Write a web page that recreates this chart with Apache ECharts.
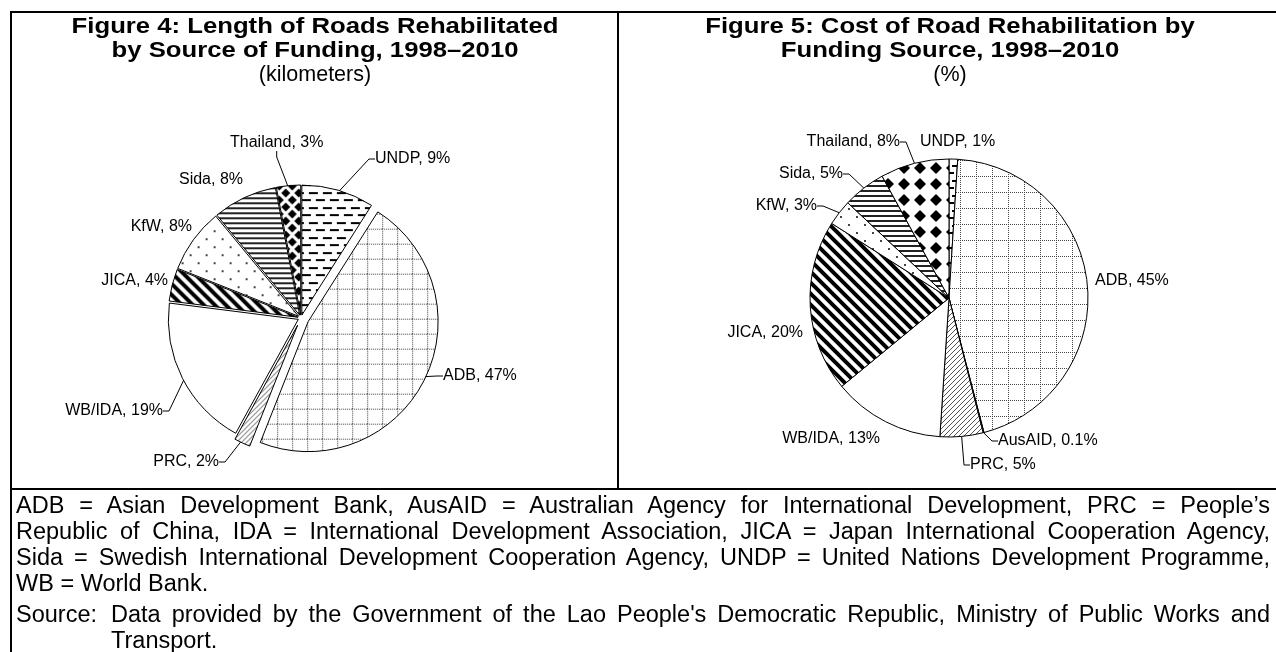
<!DOCTYPE html>
<html>
<head>
<meta charset="utf-8">
<script src="https://cdn.jsdelivr.net/npm/echarts@6/dist/echarts.min.js"></script>
<style>
  html, body { margin: 0; padding: 0; background: #fff; overflow: hidden; }
  body { width: 1276px; height: 652px; position: relative; font-family: "Liberation Sans", Arial, sans-serif; color: #000; }
  #chart { position: absolute; left: 0; top: 0; width: 1276px; height: 652px; }
  #frame { position: absolute; left: 10px; top: 11px; width: 1280px; height: 700px; border: 2px solid #000; box-sizing: border-box; pointer-events: none; }
  #divider { position: absolute; left: 617px; top: 11px; width: 2px; height: 479px; background: #000; }
  #hline { position: absolute; left: 10px; top: 488px; width: 1280px; height: 2px; background: #000; }
  .ttl { position: absolute; top: 14px; width: 600px; text-align: center; line-height: 24px; }
  .ttl b { display: block; font-size: 21.5px; transform: scaleX(1.195); }
  .ttl span { display: block; font-size: 21.5px; }
  #notes { position: absolute; left: 16px; top: 492px; width: 1254px; font-size: 23.5px; line-height: 26px; }
  #notes .ln { text-align: justify; text-align-last: justify; white-space: nowrap; }
  #notes .ln.end { text-align-last: left; }
  #notes .src { position: relative; margin-top: 5px; padding-left: 95px; }
  #notes .src .lbl { position: absolute; left: 0; top: 0; }
</style>
</head>
<body>
<div id="chart"></div>
<div id="frame"></div>
<div id="divider"></div>
<div id="hline"></div>
<div class="ttl" style="left:15px"><b>Figure 4: Length of Roads Rehabilitated</b><b>by Source of Funding, 1998–2010</b><span>(kilometers)</span></div>
<div class="ttl" style="left:650px"><b>Figure 5: Cost of Road Rehabilitation by</b><b>Funding Source, 1998–2010</b><span>(%)</span></div>
<div id="notes">
  <div class="ln">ADB = Asian Development Bank, AusAID = Australian Agency for International Development, PRC = People’s</div>
  <div class="ln">Republic of China, IDA = International Development Association, JICA = Japan International Cooperation Agency,</div>
  <div class="ln">Sida = Swedish International Development Cooperation Agency, UNDP = United Nations Development Programme,</div>
  <div class="ln end">WB = World Bank.</div>
  <div class="src">
    <span class="lbl">Source:</span>
    <div class="ln">Data provided by the Government of the Lao People's Democratic Republic, Ministry of Public Works and</div>
    <div class="ln end">Transport.</div>
  </div>
</div>
<script>
// figure 4 - length of roads (percent of km)
var lenNames = ['UNDP', 'ADB', 'PRC', 'WB/IDA', 'JICA', 'KfW', 'Sida', 'Thailand'];
var lenValues = [9, 47, 2, 19, 4, 8, 8, 3];
// figure 5 - cost share (%)
var costNames = ['UNDP', 'ADB', 'AusAID', 'PRC', 'WB/IDA', 'JICA', 'KfW', 'Sida', 'Thailand'];
var costValues = [1, 45, 0.1, 5, 13, 20, 3, 5, 8];
// slices that stick out further in figure 4
var bigOffset = ['ADB', 'PRC'];

var FONT = '"Liberation Sans", Arial, sans-serif';
var C1 = [301, 318], R1 = 130;
var C2 = [949, 298], R2 = 139;

// where the data labels sit (x, y, align), like the excel "best fit" ones
var lenSpots = {
  'Thailand': [230, 143, 'left'],
  'UNDP': [375, 159, 'left'],
  'ADB': [443, 376, 'left'],
  'PRC': [219, 462, 'right'],
  'WB/IDA': [163, 411, 'right'],
  'JICA': [168, 281, 'right'],
  'KfW': [192, 227, 'right'],
  'Sida': [243, 180, 'right']
};
var costSpots = {
  'Thailand': [900, 142, 'right'],
  'UNDP': [920, 142, 'left'],
  'ADB': [1095, 281, 'left'],
  'AusAID': [998, 441, 'left'],
  'PRC': [970, 465, 'left'],
  'WB/IDA': [880, 439, 'right'],
  'JICA': [803, 333, 'right'],
  'KfW': [817, 206, 'right'],
  'Sida': [843, 174, 'right']
};
// labels drawn without a leader line
var lenNoLine = ['JICA', 'KfW', 'Sida'];
var costNoLine = ['UNDP', 'ADB', 'WB/IDA', 'JICA'];

function tile(w, h, draw) {
  var c = document.createElement('canvas');
  c.width = w; c.height = h;
  var ctx = c.getContext('2d');
  ctx.fillStyle = '#fff';
  ctx.fillRect(0, 0, w, h);
  ctx.fillStyle = '#000';
  ctx.strokeStyle = '#000';
  draw(ctx, w, h);
  return { image: c, repeat: 'repeat' };
}
function gridTile(n) {
  return tile(n, n, function (ctx) {
    ctx.fillStyle = '#444';
    for (var i = 0; i < n; i += 2) {
      ctx.fillRect(i, 0, 1, 1);
      ctx.fillRect(0, i, 1, 1);
    }
  });
}
function dia(ctx, x, y, r) {
  ctx.beginPath();
  ctx.moveTo(x, y - r); ctx.lineTo(x + r, y); ctx.lineTo(x, y + r); ctx.lineTo(x - r, y);
  ctx.closePath(); ctx.fill();
}
// diamonds on a square grid
function diamondTile(n, r) {
  return tile(n, n, function (ctx) { dia(ctx, n / 2, n / 2, r); });
}
// diamonds on a staggered grid
function staggerTile(w, h, r) {
  return tile(w, h, function (ctx) {
    dia(ctx, 0, 0, r); dia(ctx, w, 0, r); dia(ctx, 0, h, r); dia(ctx, w, h, r);
    dia(ctx, w / 2, h / 2, r);
  });
}

// black & white fills, one per funder
var fills = {
  'UNDP': tile(14, 15, function (ctx) {
    ctx.fillRect(0, 0, 9, 2);
    ctx.fillRect(7, 7, 7, 2);
    ctx.fillRect(0, 7, 2, 2);
  }),
  'ADB': gridTile(16),
  'PRC': tile(5, 5, function (ctx) {
    ctx.strokeStyle = '#555';
    ctx.lineWidth = 1;
    ctx.beginPath();
    ctx.moveTo(-1, 6); ctx.lineTo(6, -1);
    ctx.stroke();
  }),
  'WB/IDA': '#fff',
  'JICA': tile(11, 11, function (ctx) {
    ctx.lineWidth = 4;
    ctx.beginPath();
    ctx.moveTo(-2, -2); ctx.lineTo(13, 13);
    ctx.moveTo(-2, 9); ctx.lineTo(2, 13);
    ctx.moveTo(9, -2); ctx.lineTo(13, 2);
    ctx.stroke();
  }),
  'KfW': tile(16, 16, function (ctx) {
    ctx.fillStyle = '#444';
    ctx.fillRect(0, 0, 2, 2);
    ctx.fillRect(8, 8, 2, 2);
  }),
  'Sida': tile(1, 5, function (ctx) {
    ctx.fillStyle = '#222';
    ctx.fillRect(0, 0, 1, 2);
  }),
  'Thailand': diamondTile(16, 6),
  'AusAID': '#000'
};
// figure 4 uses a slightly finer grid and staggered diamonds
var lenFills = Object.assign({}, fills, { 'ADB': gridTile(15), 'Thailand': staggerTile(13, 14, 4.5) });

var labelStyle = {
  show: true,
  position: 'outside',
  formatter: '{b}, {c}%',
  color: '#000',
  fontSize: 16,
  fontFamily: FONT
};
var lineStyle = {
  show: true,
  length: 10,
  length2: 6,
  lineStyle: { color: '#000', width: 1 }
};

// slices only (no labels); keep() picks which slices this layer draws
function sliceData(names, values, fillSet, keep, selected) {
  return names.map(function (n, i) {
    if (keep && !keep(n)) {
      return { name: n, value: values[i], itemStyle: { color: 'none', borderWidth: 0 } };
    }
    return {
      name: n, value: values[i], selected: selected,
      itemStyle: { color: fillSet[n], borderColor: '#000', borderWidth: 1 }
    };
  });
}
// invisible slices that only carry the labels
function labelData(names, values, noLine) {
  return names.map(function (n, i) {
    return {
      name: n, value: values[i],
      itemStyle: { color: 'none', borderWidth: 0 },
      labelLine: { show: noLine.indexOf(n) < 0 }
    };
  });
}
function placeLabel(spots, names) {
  return function (p) {
    var s = spots[names[p.dataIndex]];
    if (!s) return {};
    return { x: s[0], y: s[1], align: s[2], verticalAlign: 'middle' };
  };
}

var myChart = echarts.init(document.getElementById('chart'));
var slicesBase = {
  type: 'pie',
  silent: true,
  emphasis: { disabled: true },
  label: { show: false },
  labelLine: { show: false }
};
var option = {
  animation: false,
  series: [
    Object.assign({}, slicesBase, {
      center: C1, radius: R1,
      selectedMode: 'multiple', selectedOffset: 3,
      data: sliceData(lenNames, lenValues, lenFills, function (n) { return bigOffset.indexOf(n) < 0; }, true)
    }),
    Object.assign({}, slicesBase, {
      center: C1, radius: R1,
      selectedMode: 'multiple', selectedOffset: 8,
      data: sliceData(lenNames, lenValues, lenFills, function (n) { return bigOffset.indexOf(n) >= 0; }, true)
    }),
    {
      type: 'pie', silent: true,
      center: C1, radius: R1,
      avoidLabelOverlap: false,
      emphasis: { disabled: true },
      label: labelStyle,
      labelLine: lineStyle,
      labelLayout: placeLabel(lenSpots, lenNames),
      data: labelData(lenNames, lenValues, lenNoLine)
    },
    Object.assign({}, slicesBase, {
      center: C2, radius: R2,
      selectedMode: false,
      data: sliceData(costNames, costValues, fills, null, false)
    }),
    {
      type: 'pie', silent: true,
      center: C2, radius: R2,
      avoidLabelOverlap: false,
      emphasis: { disabled: true },
      label: labelStyle,
      labelLine: lineStyle,
      labelLayout: placeLabel(costSpots, costNames),
      data: labelData(costNames, costValues, costNoLine)
    }
  ]
};
myChart.setOption(option);
</script>
</body>
</html>
